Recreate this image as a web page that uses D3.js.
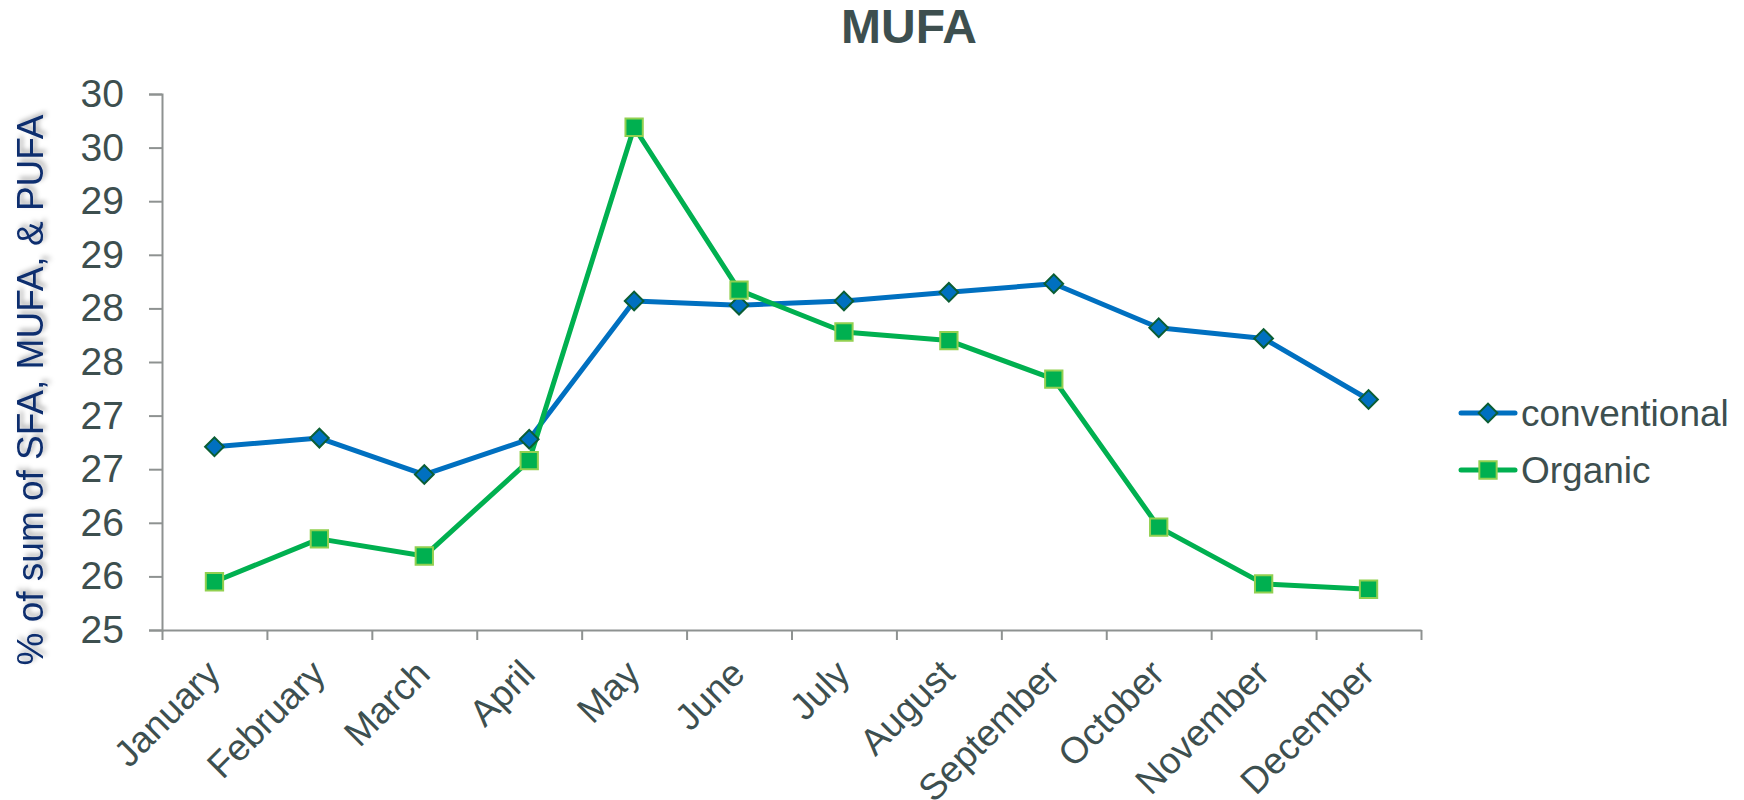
<!DOCTYPE html>
<html>
<head>
<meta charset="utf-8">
<script src="https://cdn.jsdelivr.net/npm/d3@7"></script>
<style>
  body { margin: 0; background: #fff; }
  text { font-family: "Liberation Sans", Arial, sans-serif; }
</style>
</head>
<body>
<svg id="chart" width="1744" height="800"></svg>
<script>
// chart data
var months = ['January', 'February', 'March', 'April', 'May', 'June',
  'July', 'August', 'September', 'October', 'November', 'December'];
var conventional = [26.71, 26.79, 26.45, 26.78, 28.07, 28.03, 28.07, 28.15, 28.23, 27.82, 27.72, 27.15];
var organic = [25.45, 25.85, 25.69, 26.58, 29.69, 28.17, 27.78, 27.70, 27.34, 25.96, 25.43, 25.38];
var yTicks = [25, 25.5, 26, 26.5, 27, 27.5, 28, 28.5, 29, 29.5, 30];
var yTickLabels = ['25', '26', '26', '27', '27', '28', '28', '29', '29', '30', '30'];
var seriesNames = ['conventional', 'Organic'];

var svg = d3.select('#chart');
var plot = { left: 162, right: 1421, top: 94, bottom: 630 };
var textColor = '#3d4f4f';
var axisColor = '#8e9291';

var x = d3.scaleBand().domain(months).range([plot.left, plot.right]).padding(0);
var xEdges = d3.scaleLinear().domain([0, months.length]).range([plot.left, plot.right]);
var y = d3.scaleLinear().domain([25, 30]).range([plot.bottom, plot.top]);

// drop shadow for the axis title
var defs = svg.append('defs');
var f = defs.append('filter').attr('id', 'shadow')
  .attr('x', '-50%').attr('y', '-10%').attr('width', '200%').attr('height', '120%');
f.append('feDropShadow').attr('dx', 3).attr('dy', 3).attr('stdDeviation', 2.5)
  .attr('flood-color', '#000').attr('flood-opacity', 0.35);

// title
svg.append('text')
  .attr('x', 909).attr('y', 43)
  .attr('text-anchor', 'middle')
  .style('font-size', '48px').style('font-weight', 'bold')
  .attr('fill', textColor)
  .text('MUFA');

// y axis title
svg.append('text')
  .attr('transform', 'translate(43,390) rotate(-90)')
  .attr('text-anchor', 'middle')
  .style('font-size', '37px')
  .attr('fill', '#0b2d6e')
  .attr('filter', 'url(#shadow)')
  .text('% of sum of SFA, MUFA, & PUFA');

// y axis
var yAxis = svg.append('g')
  .attr('transform', 'translate(' + plot.left + ',0)')
  .call(d3.axisLeft(y).tickValues(yTicks)
    .tickFormat(function (d, i) { return yTickLabels[i]; })
    .tickSize(13).tickPadding(25));
yAxis.select('.domain').attr('stroke', axisColor).attr('stroke-width', 2);
yAxis.selectAll('.tick line').attr('stroke', axisColor).attr('stroke-width', 2);
yAxis.selectAll('.tick text')
  .attr('fill', textColor)
  .style('font-size', '39px')
  .style('font-family', '"Liberation Sans", Arial, sans-serif');

// x axis: ticks between categories
var xAxis = svg.append('g')
  .attr('transform', 'translate(0,' + plot.bottom + ')')
  .call(d3.axisBottom(xEdges).ticks(months.length).tickFormat('').tickSize(10).tickSizeOuter(0));
xAxis.select('.domain').attr('stroke', axisColor).attr('stroke-width', 2);
xAxis.selectAll('.tick line').attr('stroke', axisColor).attr('stroke-width', 2);

// x labels
svg.append('g').selectAll('text')
  .data(months)
  .enter().append('text')
  .attr('transform', function (d) {
    return 'translate(' + (x(d) + x.bandwidth() / 2 - 11) + ',' + (plot.bottom + 27) + ') rotate(-45)';
  })
  .attr('text-anchor', 'end')
  .attr('dy', '0.72em')
  .style('font-size', '37px')
  .attr('fill', textColor)
  .text(function (d) { return d; });

var styles = [
  { line: '#0070c0', fill: '#0070c0', stroke: '#0b5e34', type: d3.symbolSquare, size: 175, rotate: 45 },
  { line: '#00b050', fill: '#00b050', stroke: '#92d050', type: d3.symbolSquare, size: 300, rotate: 0 }
];
var series = [conventional, organic];

var line = d3.line()
  .x(function (d, i) { return x(months[i]) + x.bandwidth() / 2; })
  .y(function (d) { return y(d); });

series.forEach(function (values, s) {
  var st = styles[s];
  svg.append('path')
    .datum(values)
    .attr('d', line)
    .attr('fill', 'none')
    .attr('stroke', st.line)
    .attr('stroke-width', 5)
    .attr('stroke-linejoin', 'round');
});

series.forEach(function (values, s) {
  var st = styles[s];
  svg.append('g').selectAll('path')
    .data(values)
    .enter().append('path')
    .attr('d', d3.symbol().type(st.type).size(st.size))
    .attr('transform', function (d, i) {
      return 'translate(' + (x(months[i]) + x.bandwidth() / 2) + ',' + y(d) + ') rotate(' + st.rotate + ')';
    })
    .attr('fill', st.fill)
    .attr('stroke', st.stroke)
    .attr('stroke-width', 2);
});

// legend
var legend = svg.append('g').selectAll('g')
  .data(seriesNames)
  .enter().append('g')
  .attr('transform', function (d, i) { return 'translate(1461,' + (413 + i * 57) + ')'; });

legend.append('line')
  .attr('x1', 0).attr('x2', 54)
  .attr('stroke', function (d, i) { return styles[i].line; })
  .attr('stroke-width', 5)
  .attr('stroke-linecap', 'round');

legend.append('path')
  .attr('d', function (d, i) { return d3.symbol().type(styles[i].type).size(styles[i].size)(); })
  .attr('transform', function (d, i) { return 'translate(27,0) rotate(' + styles[i].rotate + ')'; })
  .attr('fill', function (d, i) { return styles[i].fill; })
  .attr('stroke', function (d, i) { return styles[i].stroke; })
  .attr('stroke-width', 2);

legend.append('text')
  .attr('x', 60).attr('dy', '0.35em')
  .style('font-size', '37px')
  .attr('fill', textColor)
  .text(function (d) { return d; });
</script>
</body>
</html>
